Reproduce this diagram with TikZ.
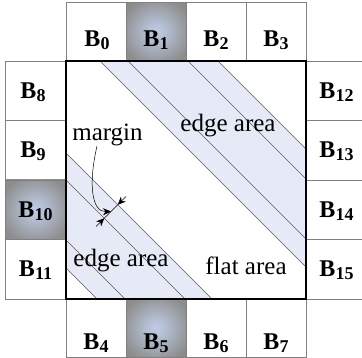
\documentclass[tikz,border=0pt]{standalone}
\usepackage{fontspec}
\setmainfont{Liberation Serif}
\usetikzlibrary{arrows.meta}
\definecolor{bandfill}{RGB}{229,234,246}
\definecolor{cellline}{RGB}{128,128,128}
\definecolor{bandline}{RGB}{90,90,90}
\definecolor{glowin}{RGB}{190,203,228}
\definecolor{glowout}{RGB}{140,140,140}
\pgfdeclareradialshading{cellglow}{\pgfpoint{0cm}{0cm}}{%
  color(0bp)=(glowin); color(8bp)=(glowin!80!glowout); color(30bp)=(glowout); color(50bp)=(glowout)}
\newcommand{\blk}[1]{{\fontsize{24}{28}\selectfont\bfseries B\raisebox{-3pt}{\fontsize{18}{21}\selectfont #1}}}
\begin{document}
\begin{tikzpicture}[x=1pt,y=-1pt,
  cell/.style={draw=cellline,line width=0.9pt,fill=white,inner sep=0pt,outer sep=0pt},
  hcell/.style={cell,minimum width=60pt,minimum height=58.5pt},
  vcell/.style={cell,minimum width=61pt,minimum height=59.5pt},
  glow/.style={shading=cellglow},
  lbl/.style={anchor=base,inner sep=0pt},
  ann/.style={anchor=base,inner sep=0pt,font=\fontsize{25}{30}\selectfont},
  bandedge/.style={draw=bandline,line width=0.5pt},
  tip/.style={-{Stealth[length=8pt,width=7pt]}}
]
\clip (0,0) rectangle (362,358);
% top row
\node[hcell] (c0) at (96,31.75) {};
\node[hcell,glow] (c1) at (156,31.75) {};
\node[hcell] (c2) at (216,31.75) {};
\node[hcell] (c3) at (276,31.75) {};
% bottom row
\node[hcell] (c4) at (96,328.25) {};
\node[hcell,glow] (c5) at (156,328.25) {};
\node[hcell] (c6) at (216,328.25) {};
\node[hcell] (c7) at (276,328.25) {};
% left column
\node[vcell] (c8) at (35.5,90.75) {};
\node[vcell] (c9) at (35.5,150.25) {};
\node[vcell,glow] (c10) at (35.5,209.75) {};
\node[vcell] (c11) at (35.5,269.25) {};
% right column
\node[vcell] (c12) at (336.5,90.75) {};
\node[vcell] (c13) at (336.5,150.25) {};
\node[vcell] (c14) at (336.5,209.75) {};
\node[vcell] (c15) at (336.5,269.25) {};
% labels
\node[lbl] (t0) at (97,47) {\blk{0}};
\node[lbl] (t1) at (156,47) {\blk{1}};
\node[lbl] (t2) at (216,47) {\blk{2}};
\node[lbl] (t3) at (276,47) {\blk{3}};
\node[lbl] (t4) at (96,350) {\blk{4}};
\node[lbl] (t5) at (156,350) {\blk{5}};
\node[lbl] (t6) at (216,350) {\blk{6}};
\node[lbl] (t7) at (276,350) {\blk{7}};
\node[lbl] (t8) at (33,98.5) {\blk{8}};
\node[lbl] (t9) at (33,158) {\blk{9}};
\node[lbl] (t10) at (35.5,217.5) {\blk{10}};
\node[lbl] (t11) at (35.5,277) {\blk{11}};
\node[lbl] (t12) at (336.5,98.5) {\blk{12}};
\node[lbl] (t13) at (336.5,158) {\blk{13}};
\node[lbl] (t14) at (336.5,217.5) {\blk{14}};
\node[lbl] (t15) at (336.5,277) {\blk{15}};
% main square interior
\fill[white] (66,61) rectangle (306,299);
\fill[bandfill] (100,61) -- (218,61) -- (306,149) -- (306,267) -- cycle;
\fill[bandfill] (66,153) -- (212,299) -- (97,299) -- (66,268) -- cycle;
\draw[bandedge] (100,61) -- (306,267);
\draw[bandedge] (128,61) -- (306,239);
\draw[bandedge] (188,61) -- (306,179);
\draw[bandedge] (218,61) -- (306,149);
\draw[bandedge] (66,153) -- (212,299);
\draw[bandedge] (66,180) -- (185,299);
\draw[bandedge] (66,240) -- (125,299);
\draw[bandedge] (66,268) -- (97,299);
\node[draw,line width=2.2pt,minimum width=240pt,minimum height=238pt,inner sep=0pt,outer sep=0pt] (sq) at (186,180) {};
% texts
\node[ann] (margin) at (107.5,141) {margin};
\node[ann] (ea1) at (228,132) {edge area};
\node[ann] (ea2) at (121,267) {edge area};
\node[ann] (fa) at (246,275) {flat area};
% margin annotation
\coordinate (ms) at (97,146);
\coordinate (mm) at (111,211.5);
\coordinate (p1) at (117.75,204.75);
\coordinate (p2) at (104.25,218.25);
\coordinate (q1) at (126,196.5);
\coordinate (q2) at (96,226.5);
\draw[line width=0.5pt,tip] (ms) .. controls (88,185) and (92,212) .. (mm);
\draw[line width=0.5pt] (p1) -- (p2);
\draw[line width=0.5pt,tip] (q1) -- (p1);
\draw[line width=0.5pt,tip] (q2) -- (p2);
\end{tikzpicture}
\end{document}
